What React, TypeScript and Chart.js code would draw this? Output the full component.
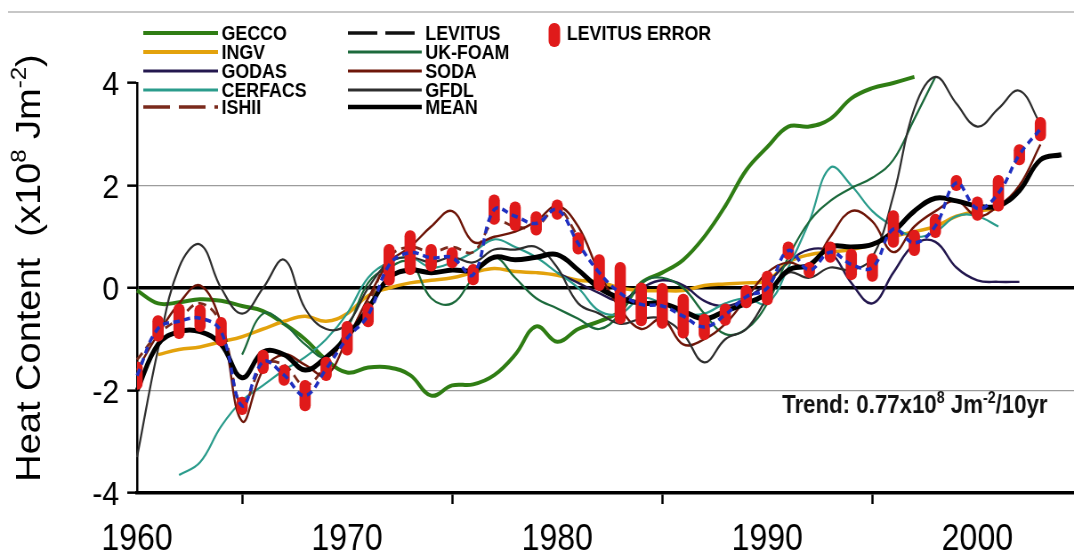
import React, { useEffect, useRef } from "react";
import { Chart, registerables } from "chart.js";

Chart.register(...registerables);

// The original figure is horizontally squeezed; we draw on a wider canvas and squeeze it.
const CANVAS_W = 1207;
const CANVAS_H = 559;
const SQUEEZE = 1074 / CANVAS_W;
const FONT = '"Liberation Sans", Arial, Helvetica, sans-serif';

// ---------------- data (x10^8 J m^-2), annual values ----------------
const X_TICKS_STEP = 10;
const Y_TICKS = [-4, -2, 0, 2, 4];

const GECCO_START = 1960;
const GECCO = [-0.05, -0.3, -0.28, -0.22, -0.25, -0.35, -0.45, -0.7, -1.0, -1.4, -1.65, -1.55, -1.55, -1.7, -2.1, -1.9, -1.88, -1.7, -1.3, -0.75, -1.05, -0.8, -0.65, -0.45, 0.1, 0.3, 0.55, 1.0, 1.6, 2.3, 2.75, 3.15, 3.15, 3.3, 3.7, 3.9, 4.0, 4.12];

const INGV_START = 1961;
const INGV = [-1.3, -1.2, -1.15, -1.05, -0.95, -0.8, -0.65, -0.55, -0.65, -0.5, -0.15, 0.0, 0.1, 0.15, 0.2, 0.3, 0.38, 0.32, 0.3, 0.25, 0.15, 0.12, 0.0, -0.05, -0.05, -0.05, 0.05, 0.08, 0.1, 0.15, 0.5, 0.65, 0.7, 0.75, 0.85, 1.0, 1.1, 1.2, 1.4, 1.5, 1.55];

const GODAS_START = 1980;
const GODAS = [0.3, 0.1, -0.1, -0.25, 0.0, 0.15, 0.05, -0.25, -0.35, -0.2, 0.1, 0.5, 0.75, 0.7, 0.1, -0.3, 0.3, 0.85, 0.9, 0.4, 0.15, 0.12, 0.12];

const CERFACS_START = 1962;
const CERFACS = [-3.65, -3.4, -2.7, -2.2, -1.9, -1.6, -1.35, -1.0, -0.5, 0.2, 0.5, 0.6, 0.4, 0.5, 0.7, 0.95, 0.8, 0.6, 0.3, 0.0, -0.45, -0.5, -0.2, -0.3, -0.5, -0.5, -0.3, -0.2, -0.3, 0.4, 1.3, 2.35, 2.0, 1.5, 1.2, 1.0, 1.1, 1.4, 1.4, 1.2];

const ISHII_START = 1960;
const ISHII = [-1.4, -0.9, -0.6, -0.3, -0.7, -2.3, -1.5, -1.5, -1.9, -1.5, -0.9, -0.3, 0.6, 0.8, 0.7, 0.8, 0.7, 1.3, 1.2, 1.2, 1.55, 1.0];

const LEVITUS_START = 1960;
const LEVITUS = [-1.71, -0.79, -0.65, -0.59, -0.85, -2.3, -1.44, -1.7, -2.1, -1.58, -0.98, -0.53, 0.45, 0.69, 0.59, 0.59, 0.26, 1.53, 1.4, 1.26, 1.53, 0.87, 0.3, -0.1, -0.32, -0.35, -0.55, -0.76, -0.52, -0.17, 0.0, 0.73, 0.35, 0.7, 0.46, 0.4, 1.15, 0.88, 1.21, 2.05, 1.55, 1.85, 2.6, 3.1];
const LEVITUS_ERR = [0.27, 0.25, 0.34, 0.26, 0.28, 0.17, 0.23, 0.2, 0.3, 0.23, 0.33, 0.23, 0.4, 0.43, 0.26, 0.2, 0.2, 0.29, 0.28, 0.23, 0.19, 0.21, 0.35, 0.6, 0.42, 0.44, 0.43, 0.25, 0.21, 0.22, 0.33, 0.17, 0.15, 0.2, 0.3, 0.27, 0.36, 0.25, 0.23, 0.15, 0.23, 0.35, 0.2, 0.23];

const UKFOAM_START = 1965;
const UKFOAM = [-1.3, -0.5, -0.7, -1.1, -1.35, -0.8, 0.1, 0.4, 0.5, -0.2, -0.3, 0.2, 0.6, 0.2, -0.2, -0.4, -0.6, -0.8, -0.5, 0.1, 0.2, 0.0, -0.5, -0.9, -0.8, -0.3, 0.6, 1.3, 1.7, 1.95, 2.15, 2.5, 3.3, 4.12];

const SODA_START = 1960;
const SODA = [-1.6, -0.9, -0.3, 0.05, -0.7, -2.6, -1.6, -1.3, -1.5, -1.7, -1.0, -0.2, 0.5, 0.8, 1.2, 1.5, 0.9, 1.0, 1.1, 1.3, 1.6, 1.2, 0.3, -0.4, -0.8, -0.6, -1.1, -1.0, -0.7, -0.2, 0.3, 0.5, 0.4, 1.0, 1.5, 1.3, 0.7, 1.2, 1.5, 1.7, 1.4, 1.6, 2.0, 2.8];

const GFDL_START = 1960;
const GFDL = [-3.3, -1.2, 0.4, 0.85, 0.0, -0.5, 0.0, 0.55, -0.4, -0.8, -0.7, 0.0, 0.5, 0.6, 0.5, 0.6, 0.5, 0.75, 0.75, 0.8, 0.4, -0.3, -0.5, -0.7, -0.6, -0.6, -0.9, -1.45, -1.0, -0.8, -0.2, 0.3, 0.2, 0.4, 0.35, 0.6, 1.8, 3.5, 4.12, 3.6, 3.15, 3.5, 3.85, 3.2];

const MEAN_START = 1960;
const MEAN = [-2.0, -1.1, -0.85, -0.85, -1.1, -1.75, -1.25, -1.3, -1.6, -1.35, -0.95, -0.4, 0.2, 0.35, 0.3, 0.35, 0.35, 0.6, 0.55, 0.6, 0.65, 0.35, 0.0, -0.2, -0.3, -0.3, -0.45, -0.6, -0.45, -0.3, -0.1, 0.35, 0.45, 0.8, 0.8, 0.85, 1.1, 1.5, 1.75, 1.7, 1.6, 1.6, 1.9, 2.5, 2.6];

const X_MIN = 1960;
const X_MAX = 2004.6;

// ---------------- styles ----------------
const COLORS = {
  GECCO: "#2f7d14",
  INGV: "#e3a20c",
  GODAS: "#24184f",
  CERFACS: "#2b9c8c",
  ISHII: "#7a2a1c",
  LEVITUS: "#1f2fc0",
  LEVITUS_LEGEND: "#111111",
  ERROR: "#e01a1a",
  UKFOAM: "#1c6a3c",
  SODA: "#6e1609",
  GFDL: "#2e2e2e",
  MEAN: "#000000",
};

type LegendItem = { label: string; color: string; width: number; dash: number[] };

const LEGEND_COL1: LegendItem[] = [
  { label: "GECCO", color: COLORS.GECCO, width: 4, dash: [] },
  { label: "INGV", color: COLORS.INGV, width: 4, dash: [] },
  { label: "GODAS", color: COLORS.GODAS, width: 3, dash: [] },
  { label: "CERFACS", color: COLORS.CERFACS, width: 3, dash: [] },
  { label: "ISHII", color: COLORS.ISHII, width: 3.5, dash: [30, 10] },
];
const LEGEND_COL2: LegendItem[] = [
  { label: "LEVITUS", color: COLORS.LEVITUS_LEGEND, width: 3.5, dash: [33, 9] },
  { label: "UK-FOAM", color: COLORS.UKFOAM, width: 3, dash: [] },
  { label: "SODA", color: COLORS.SODA, width: 3, dash: [] },
  { label: "GFDL", color: COLORS.GFDL, width: 3, dash: [] },
  { label: "MEAN", color: COLORS.MEAN, width: 4.5, dash: [] },
];
const LEGEND_ROWS = [33, 52, 71, 90, 107];

const toPoints = (start: number, vals: number[]) => vals.map((y, i) => ({ x: start + i, y }));

function drawSupText(
  ctx: CanvasRenderingContext2D,
  parts: { t: string; sup?: boolean }[],
  x: number,
  y: number,
  size: number,
  weight: string,
  align: "left" | "center"
) {
  const supSize = Math.round(size * 0.62);
  const fontFor = (sup?: boolean) => `${weight} ${sup ? supSize : size}px ${FONT}`;
  let total = 0;
  for (const p of parts) {
    ctx.font = fontFor(p.sup);
    total += ctx.measureText(p.t).width;
  }
  let cx = align === "center" ? x - total / 2 : x;
  ctx.textAlign = "left";
  ctx.textBaseline = "alphabetic";
  for (const p of parts) {
    ctx.font = fontFor(p.sup);
    ctx.fillText(p.t, cx, p.sup ? y - size * 0.42 : y);
    cx += ctx.measureText(p.t).width;
  }
}

const decorPlugin = {
  id: "decor",
  beforeDraw(chart: any) {
    const ctx: CanvasRenderingContext2D = chart.ctx;
    ctx.save();
    ctx.fillStyle = "#ffffff";
    ctx.fillRect(0, 0, chart.width, chart.height);
    ctx.strokeStyle = "#b5b5b5";
    ctx.lineWidth = 1.5;
    ctx.beginPath();
    ctx.moveTo(9, 12);
    ctx.lineTo(chart.width, 12);
    ctx.stroke();
    ctx.restore();
  },
  afterDraw(chart: any) {
    const ctx: CanvasRenderingContext2D = chart.ctx;
    ctx.save();
    ctx.fillStyle = "#000";

    // legend
    const drawCol = (items: LegendItem[], x1: number, x2: number, tx: number) => {
      items.forEach((it, i) => {
        const y = LEGEND_ROWS[i];
        ctx.strokeStyle = it.color;
        ctx.lineWidth = it.width;
        ctx.setLineDash(it.dash);
        ctx.beginPath();
        ctx.moveTo(x1, y);
        ctx.lineTo(x2, y);
        ctx.stroke();
        ctx.setLineDash([]);
        ctx.fillStyle = "#000";
        ctx.font = `bold 20px ${FONT}`;
        ctx.textAlign = "left";
        ctx.textBaseline = "middle";
        ctx.fillText(it.label, tx, y + 1);
      });
    };
    drawCol(LEGEND_COL1, 161, 245, 249);
    drawCol(LEGEND_COL2, 391, 474, 478);

    // error marker in legend
    const mx = 623, my = LEGEND_ROWS[0] + 2, mw = 13, mh = 24;
    ctx.fillStyle = COLORS.ERROR;
    ctx.beginPath();
    (ctx as any).roundRect(mx - mw / 2, my - mh / 2, mw, mh, 6);
    ctx.fill();
    ctx.fillStyle = "#000";
    ctx.font = `bold 20px ${FONT}`;
    ctx.textBaseline = "middle";
    ctx.fillText("LEVITUS ERROR", 637, LEGEND_ROWS[0] + 1);

    // trend annotation
    ctx.fillStyle = "#111";
    drawSupText(
      ctx,
      [{ t: "Trend: 0.77x10" }, { t: "8", sup: true }, { t: " Jm" }, { t: "-2", sup: true }, { t: "/10yr" }],
      879,
      413,
      25,
      "bold",
      "left"
    );

    // y axis title (rotated)
    ctx.save();
    ctx.translate(45, 268);
    ctx.rotate(-Math.PI / 2);
    ctx.fillStyle = "#000";
    drawSupText(
      ctx,
      [{ t: "Heat Content  (x10" }, { t: "8", sup: true }, { t: " Jm" }, { t: "-2", sup: true }, { t: ")" }],
      0,
      0,
      38,
      "normal",
      "center"
    );
    ctx.restore();

    ctx.restore();
  },
};

export default function App() {
  const canvasRef = useRef<HTMLCanvasElement | null>(null);

  useEffect(() => {
    document.body.style.margin = "0";
    document.body.style.background = "#fff";
    const canvas = canvasRef.current;
    if (!canvas) return;

    const line = (label: string, start: number, vals: number[], color: string, width: number, order: number, dash: number[] = []) => ({
      type: "line" as const,
      label,
      data: toPoints(start, vals),
      borderColor: color,
      backgroundColor: color,
      borderWidth: width,
      borderDash: dash,
      pointRadius: 0,
      tension: 0.4,
      fill: false,
      clip: false as const,
      order,
    });

    const errorBars = LEVITUS.map((v, i) => ({ x: LEVITUS_START + i, y: [v - LEVITUS_ERR[i], v + LEVITUS_ERR[i]] }));

    const chart = new Chart(canvas, {
      type: "line",
      data: {
        datasets: [
          line("LEVITUS", LEVITUS_START, LEVITUS, COLORS.LEVITUS, 3.5, 0, [7, 5]),
          {
            type: "bar" as const,
            label: "LEVITUS ERROR",
            data: errorBars as any,
            backgroundColor: COLORS.ERROR,
            borderWidth: 0,
            barThickness: 12,
            borderRadius: 6,
            borderSkipped: false,
            order: 1,
          } as any,
          line("MEAN", MEAN_START, MEAN, COLORS.MEAN, 5, 2),
          line("GFDL", GFDL_START, GFDL, COLORS.GFDL, 2.2, 3),
          line("SODA", SODA_START, SODA, COLORS.SODA, 2.4, 4),
          line("ISHII", ISHII_START, ISHII, COLORS.ISHII, 2.8, 5, [9, 6]),
          line("UK-FOAM", UKFOAM_START, UKFOAM, COLORS.UKFOAM, 2.2, 6),
          line("CERFACS", CERFACS_START, CERFACS, COLORS.CERFACS, 2.2, 7),
          line("GODAS", GODAS_START, GODAS, COLORS.GODAS, 2.4, 8),
          line("INGV", INGV_START, INGV, COLORS.INGV, 3.5, 9),
          line("GECCO", GECCO_START, GECCO, COLORS.GECCO, 4, 10),
        ],
      },
      options: {
        responsive: false,
        maintainAspectRatio: false,
        animation: false,
        events: [],
        layout: { padding: { top: 83, right: 0, bottom: 0, left: 0 } },
        plugins: { legend: { display: false }, tooltip: { enabled: false } },
        scales: {
          x: {
            type: "linear",
            min: X_MIN,
            max: X_MAX,
            offset: false,
            afterFit: (s: any) => {
              s.height = 66;
            },
            border: { display: true, color: "#000", width: 3.5 },
            grid: { drawOnChartArea: false, drawTicks: true, tickLength: 11, tickWidth: 2.5, tickColor: "#000", color: "#000" },
            ticks: {
              stepSize: X_TICKS_STEP,
              includeBounds: false,
              autoSkip: false,
              maxRotation: 0,
              color: "#000",
              padding: 14,
              font: { family: FONT, size: 36 },
              callback: (v: any) => String(v),
            },
          },
          y: {
            type: "linear",
            min: Y_TICKS[0],
            max: Y_TICKS[Y_TICKS.length - 1],
            afterFit: (s: any) => {
              s.width = 154;
            },
            border: { display: true, color: "#000", width: 2.5 },
            grid: {
              drawTicks: true,
              tickLength: 11,
              tickWidth: 2.5,
              tickColor: "#000",
              color: (c: any) => {
                const v = c.tick ? c.tick.value : null;
                if (v === 0) return "#000";
                if (v === 2 || v === -2) return "#9c9c9c";
                return "rgba(0,0,0,0)";
              },
              lineWidth: (c: any) => (c.tick && c.tick.value === 0 ? 3.5 : 1.3),
            },
            ticks: {
              stepSize: 2,
              color: "#000",
              padding: 9,
              labelOffset: 3,
              font: { family: FONT, size: 34 },
              callback: (v: any) => String(v),
            },
          },
        },
      },
      plugins: [decorPlugin],
    } as any);

    return () => chart.destroy();
  }, []);

  return (
    <div style={{ width: 1074, height: 559, overflow: "hidden", position: "relative", background: "#fff" }}>
      <canvas
        ref={canvasRef}
        width={CANVAS_W}
        height={CANVAS_H}
        style={{ display: "block", transform: `scaleX(${SQUEEZE})`, transformOrigin: "0 0" }}
      />
    </div>
  );
}
